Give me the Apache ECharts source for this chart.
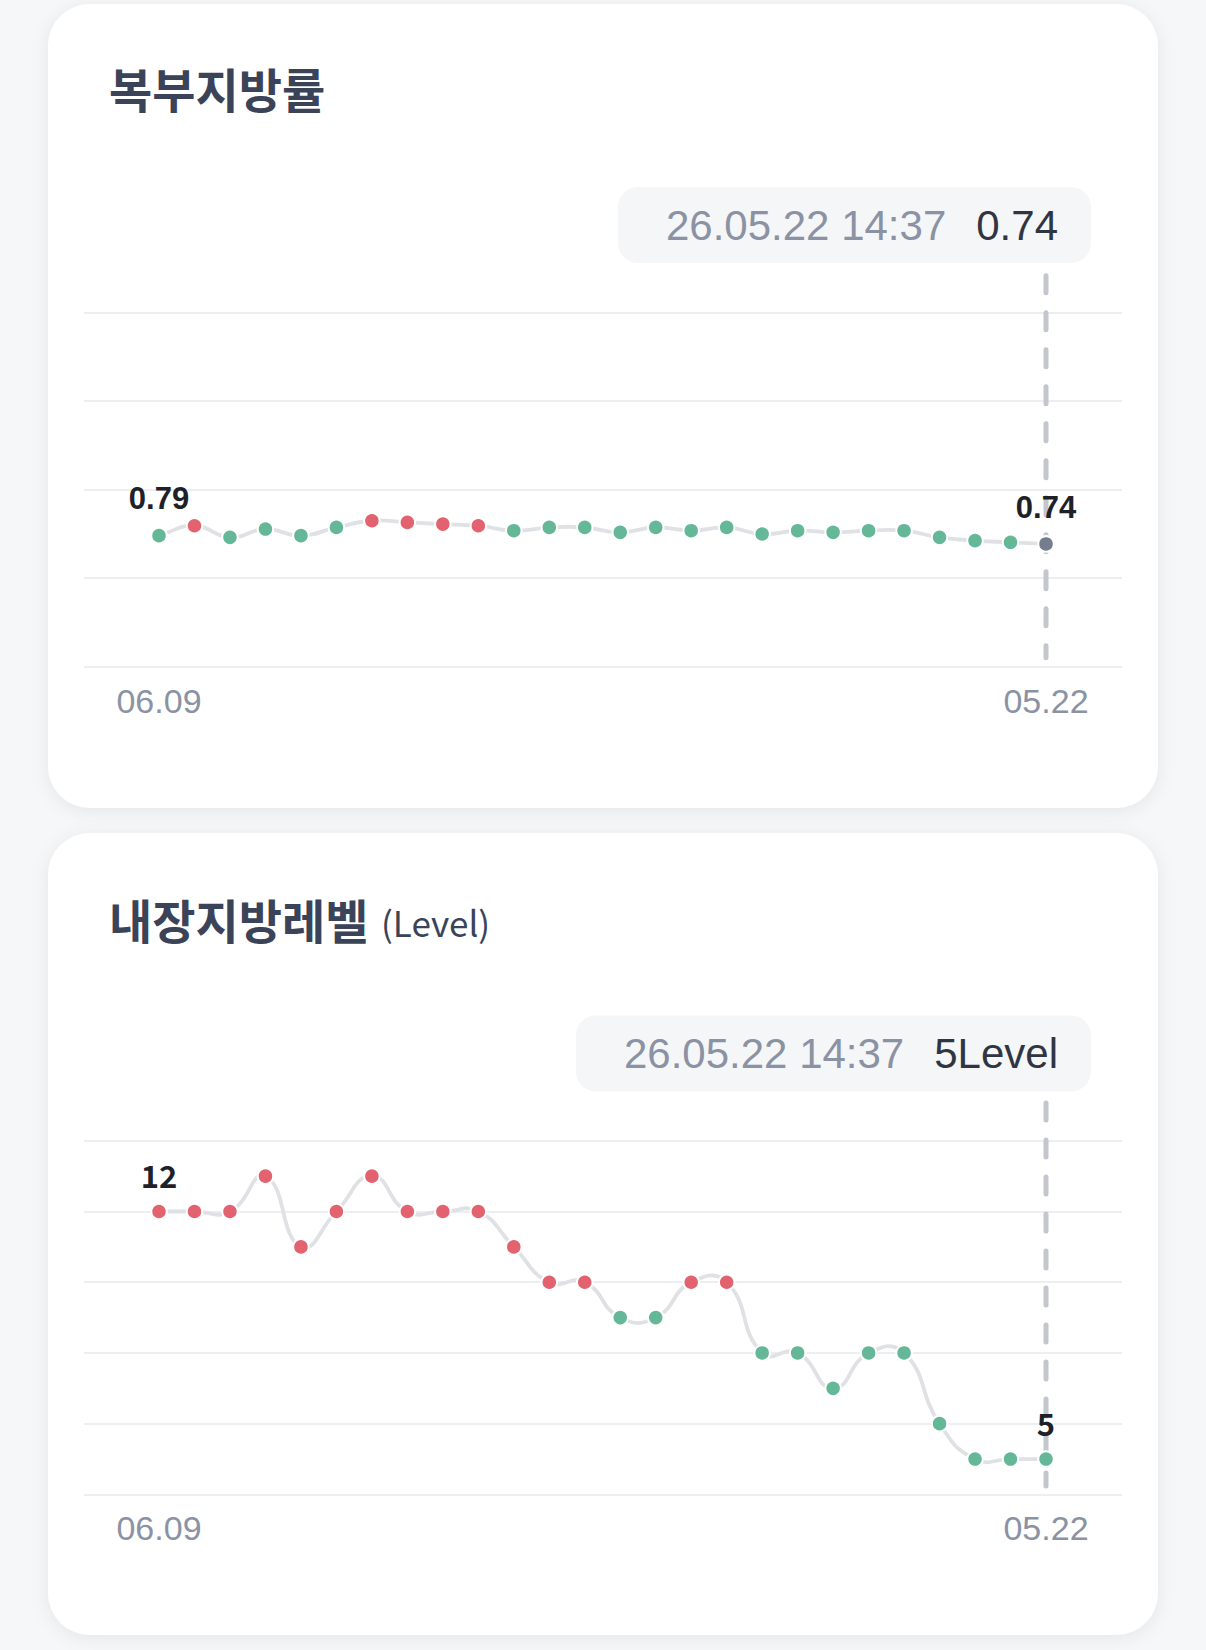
<!DOCTYPE html>
<html>
<head>
<meta charset="utf-8">
<script src="https://cdn.jsdelivr.net/npm/echarts@6/dist/echarts.min.js"></script>
<style>
  html, body { margin: 0; padding: 0; background: #f6f7f9; }
  #main { width: 1206px; height: 1650px; }
</style>
</head>
<body>
<div id="main"></div>
<script>
// ---- data ----
const fatRatioTitle = '복부지방률';
const visceralTitle = '내장지방레벨';
const visceralUnit = '(Level)';
const xTickLabels = ['06.09', '05.22'];
const selectedTime = '26.05.22 14:37';
const fatRatioSelected = '0.74';
const visceralSelected = '5Level';

const fatRatioValues = [0.79, 0.85, 0.78, 0.83, 0.79, 0.84, 0.88, 0.87, 0.86, 0.85, 0.82, 0.84, 0.84,
                        0.81, 0.84, 0.82, 0.84, 0.80, 0.82, 0.81, 0.82, 0.82, 0.78, 0.76, 0.75, 0.74];
const visceralValues = [12, 12, 12, 13, 11, 12, 13, 12, 12, 12, 11, 10, 10,
                        9, 9, 10, 10, 8, 8, 7, 8, 8, 6, 5, 5, 5];

const fatRatioAxis = { min: 0, max: 2.136, interval: 0.534 };
const visceralAxis = { min: 4, max: 14, interval: 2 };
const fatRatioWarn = 0.85;
const visceralWarn = 10;
// vertical extent of the selection guide (axis values)
const fatRatioGuide = [2.359, 0.053];
const visceralGuide = [15.07, 4.24];

// ---- styles ----
const RED = '#e2636f', GREEN = '#65b897', GREY = '#747c8e';
const LABEL_GREY = '#8a92a3';
const TITLE = '#3b4359';
const FONT_LATIN = '"Liberation Sans", Arial, sans-serif';
const FONT_KR = '"Noto Sans CJK KR", "Noto Sans", sans-serif';
const TENSION = 0.5;

const idx = fatRatioValues.map((_, i) => String(i));
const lastI = fatRatioValues.length - 1;

// smooth connecting curve (cardinal-style spline, computed from axis coordinates)
function curveSeries(values, xi, yi) {
  return {
    type: 'custom', xAxisIndex: xi, yAxisIndex: yi, z: 2, silent: true,
    data: [[0, values[0]]],
    renderItem: function (params, api) {
      const pts = values.map((v, i) => api.coord([i, v]));
      const n = pts.length;
      const cps = pts.map((p, i) => {
        const prev = pts[Math.max(i - 1, 0)], next = pts[Math.min(i + 1, n - 1)];
        const d0 = Math.hypot(p[0] - prev[0], p[1] - prev[1]);
        const d1 = Math.hypot(next[0] - p[0], next[1] - p[1]);
        const vx = next[0] - prev[0], vy = next[1] - prev[1];
        const tot = d0 + d1 || 1;
        return {
          inX: p[0] - vx * TENSION * d0 / tot, inY: p[1] - vy * TENSION * d0 / tot,
          outX: p[0] + vx * TENSION * d1 / tot, outY: p[1] + vy * TENSION * d1 / tot
        };
      });
      let d = 'M' + pts[0][0] + ' ' + pts[0][1];
      for (let i = 0; i < n - 1; i++) {
        d += ' C' + cps[i].outX + ' ' + cps[i].outY + ' ' + cps[i + 1].inX + ' ' + cps[i + 1].inY +
             ' ' + pts[i + 1][0] + ' ' + pts[i + 1][1];
      }
      return {
        type: 'path', shape: { pathData: d },
        style: { fill: 'none', stroke: '#e0e1e5', lineWidth: 3.8, lineCap: 'round', lineJoin: 'round' }
      };
    }
  };
}

function pointSeries(values, warn, xi, yi, labelFont, greyLast) {
  return {
    type: 'line', xAxisIndex: xi, yAxisIndex: yi,
    clip: false, z: 3,
    symbol: 'circle', symbolSize: 15.5,
    lineStyle: { opacity: 0, width: 0 },
    itemStyle: { borderColor: '#ffffff', borderWidth: 2 },
    emphasis: { disabled: true },
    label: {
      position: 'top', distance: 12.5, fontSize: 31, fontWeight: 'bold',
      color: '#1e2128', fontFamily: labelFont,
      formatter: p => String(p.value)
    },
    data: values.map((v, i) => ({
      value: v,
      itemStyle: { color: (greyLast && i === values.length - 1) ? GREY : (v >= warn ? RED : GREEN) },
      label: { show: i === 0 || i === values.length - 1 }
    }))
  };
}

function card(y, h) {
  return {
    type: 'rect', z: 0,
    shape: { x: 48, y: y, width: 1110, height: h, r: 42 },
    style: { fill: '#ffffff', shadowBlur: 18, shadowColor: 'rgba(20,30,60,0.07)', shadowOffsetY: 3 }
  };
}

function badge(yTop, value) {
  return {
    type: 'text', z: 5,
    style: {
      x: 1091, y: yTop, align: 'right', verticalAlign: 'top',
      text: '{d|' + selectedTime + '}{v|' + value + '}',
      backgroundColor: '#f5f6f8', borderRadius: 20,
      padding: [15, 33, 15, 48],
      rich: {
        d: { fontSize: 42, fontFamily: FONT_LATIN, fill: LABEL_GREY, lineHeight: 46 },
        v: { fontSize: 42, fontFamily: FONT_LATIN, fill: '#2f3542', lineHeight: 46, padding: [0, 0, 0, 30] }
      }
    }
  };
}

const xLabelCfg = {
  interval: 24, color: LABEL_GREY, fontSize: 34, fontFamily: FONT_LATIN, margin: 17,
  formatter: (v, i) => (i === 0 ? xTickLabels[0] : xTickLabels[1])
};

const baseGraphic = [
  card(4, 804),
  card(833, 802),
  { type: 'text', z: 5, style: { x: 109, y: 87.5, verticalAlign: 'middle', text: fatRatioTitle,
    fontSize: 47, fontWeight: 'bold', fontFamily: FONT_KR, fill: TITLE } },
  { type: 'text', z: 5, style: { x: 109, y: 918, verticalAlign: 'middle', text: visceralTitle,
    fontSize: 47, fontWeight: 'bold', fontFamily: FONT_KR, fill: TITLE } },
  { type: 'text', z: 5, style: { x: 381, y: 921, verticalAlign: 'middle', text: visceralUnit,
    fontSize: 35, fontWeight: 'normal', fontFamily: FONT_KR, fill: TITLE } },
  badge(187, fatRatioSelected),
  badge(1015.5, visceralSelected)
];

const chart = echarts.init(document.getElementById('main'), null, { renderer: 'svg' });
chart.setOption({
  backgroundColor: '#f6f7f9',
  animation: false,
  grid: [
    { left: 84, top: 312.6, width: 1038, height: 354 },
    { left: 159, top: 312.6, width: 887, height: 354 },
    { left: 84, top: 1140.8, width: 1038, height: 353.6 },
    { left: 159, top: 1140.8, width: 887, height: 353.6 }
  ],
  xAxis: [
    { gridIndex: 0, type: 'value', min: 0, max: 1, show: false },
    { gridIndex: 1, type: 'category', data: idx, boundaryGap: false,
      axisLine: { show: false }, axisTick: { show: false }, splitLine: { show: false }, axisLabel: xLabelCfg },
    { gridIndex: 2, type: 'value', min: 0, max: 1, show: false },
    { gridIndex: 3, type: 'category', data: idx, boundaryGap: false,
      axisLine: { show: false }, axisTick: { show: false }, splitLine: { show: false }, axisLabel: xLabelCfg }
  ],
  yAxis: [
    { gridIndex: 0, type: 'value', min: fatRatioAxis.min, max: fatRatioAxis.max, interval: fatRatioAxis.interval,
      axisLabel: { show: false }, axisLine: { show: false }, axisTick: { show: false },
      splitLine: { lineStyle: { color: '#eceef2', width: 2 } } },
    { gridIndex: 1, type: 'value', min: fatRatioAxis.min, max: fatRatioAxis.max, interval: fatRatioAxis.interval, show: false },
    { gridIndex: 2, type: 'value', min: visceralAxis.min, max: visceralAxis.max, interval: visceralAxis.interval,
      axisLabel: { show: false }, axisLine: { show: false }, axisTick: { show: false },
      splitLine: { lineStyle: { color: '#eceef2', width: 2 } } },
    { gridIndex: 3, type: 'value', min: visceralAxis.min, max: visceralAxis.max, interval: visceralAxis.interval, show: false }
  ],
  graphic: baseGraphic,
  series: [
    curveSeries(fatRatioValues, 1, 1),
    pointSeries(fatRatioValues, fatRatioWarn, 1, 1, FONT_LATIN, true),
    curveSeries(visceralValues, 3, 3),
    pointSeries(visceralValues, visceralWarn, 3, 3, FONT_KR, false)
  ]
});

// selection guide: dashed vertical line at the last point, positioned via the axes' scales
function guide(gridIdx, range) {
  const p1 = chart.convertToPixel({ gridIndex: gridIdx }, [lastI, range[0]]);
  const p2 = chart.convertToPixel({ gridIndex: gridIdx }, [lastI, range[1]]);
  return {
    type: 'line', z: 2, silent: true,
    shape: { x1: p1[0], y1: p1[1], x2: p2[0], y2: p2[1] },
    style: { stroke: '#c3c6cc', lineWidth: 5, lineDash: [17, 20], lineCap: 'round' }
  };
}
chart.setOption({
  graphic: baseGraphic.concat([guide(1, fatRatioGuide), guide(3, visceralGuide)])
});
</script>
</body>
</html>
